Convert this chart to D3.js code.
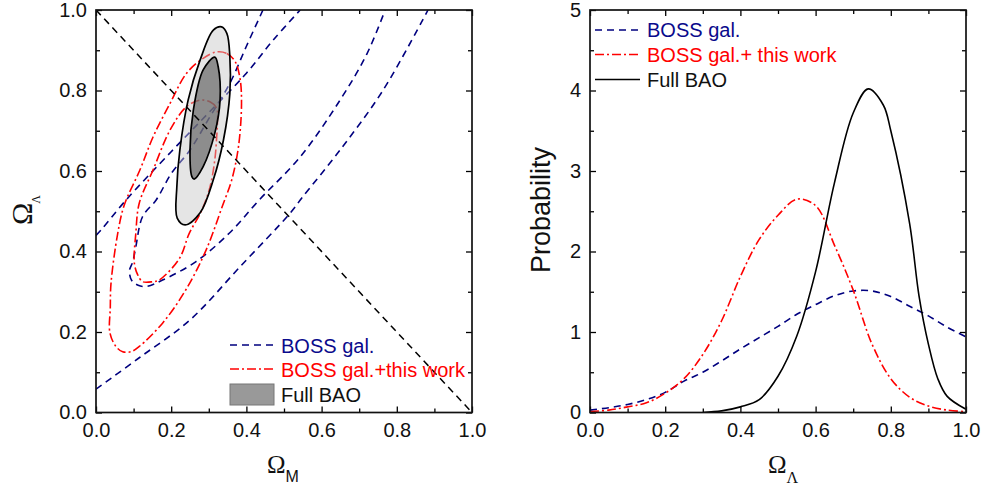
<!DOCTYPE html>
<html><head><meta charset="utf-8">
<script src="https://cdn.jsdelivr.net/npm/d3@7"></script>
<style>
body{margin:0;background:#fff}
svg{display:block}
text{font-family:"Liberation Sans",Arial,Helvetica,sans-serif}
</style>
</head><body>
<svg id="chart" width="981" height="491"></svg>
<script>
// ---------- data: left panel (Omega_M, Omega_Lambda) contours ----------
const flatLine = [[0,1],[1,0]];
const bossOuterUpper = [[0.0,0.440],[0.013,0.453],[0.08,0.528],[0.20,0.648],[0.30,0.745],[0.40,0.843],[0.471,0.925],[0.543,1.0]];
const bossOuterLower = [[0.0,0.058],[0.115,0.136],[0.25,0.23],[0.383,0.362],[0.516,0.495],[0.55,0.536],[0.649,0.652],[0.763,0.80],[0.883,1.0]];
const bossInner = [[0.444,1.0],[0.40,0.91],[0.356,0.818],[0.30,0.73],[0.25,0.652],[0.201,0.595],[0.160,0.528],[0.124,0.487],[0.106,0.412],[0.098,0.375],[0.089,0.352],[0.095,0.328],[0.112,0.316],[0.133,0.313],[0.177,0.329],[0.266,0.375],[0.355,0.446],[0.434,0.528],[0.543,0.635],[0.649,0.776],[0.72,0.89],[0.769,1.0]];
const comboOuter = [[0.321,0.896],[0.348,0.892],[0.370,0.872],[0.383,0.830],[0.387,0.768],[0.379,0.661],[0.361,0.578],[0.337,0.515],[0.293,0.404],[0.239,0.305],[0.177,0.222],[0.115,0.164],[0.093,0.151],[0.071,0.151],[0.053,0.164],[0.037,0.198],[0.038,0.26],[0.040,0.322],[0.058,0.446],[0.075,0.515],[0.117,0.603],[0.152,0.685],[0.197,0.768],[0.241,0.843],[0.285,0.880]];
const comboInner = [[0.277,0.776],[0.303,0.772],[0.321,0.756],[0.323,0.72],[0.321,0.685],[0.316,0.628],[0.303,0.56],[0.28,0.50],[0.248,0.445],[0.222,0.383],[0.168,0.329],[0.151,0.325],[0.124,0.325],[0.111,0.342],[0.102,0.371],[0.106,0.446],[0.115,0.52],[0.152,0.603],[0.197,0.702],[0.241,0.760]];
const baoOuter = [[0.334,0.958],[0.312,0.950],[0.277,0.876],[0.245,0.776],[0.223,0.652],[0.215,0.561],[0.216,0.483],[0.237,0.466],[0.277,0.496],[0.312,0.578],[0.339,0.677],[0.356,0.793],[0.356,0.884],[0.348,0.942]];
const baoInner = [[0.316,0.883],[0.285,0.851],[0.259,0.752],[0.250,0.652],[0.255,0.586],[0.261,0.580],[0.285,0.611],[0.316,0.694],[0.330,0.776],[0.325,0.859]];

// ---------- data: right panel probability curves ----------
const lamGrid = [0,0.05,0.10,0.15,0.20,0.25,0.30,0.35,0.40,0.45,0.50,0.55,0.60,0.65,0.70,0.75,0.80,0.85,0.90,0.95,1.0];
const probBoss = [0.03,0.06,0.10,0.16,0.25,0.39,0.50,0.64,0.79,0.93,1.07,1.22,1.34,1.45,1.51,1.51,1.44,1.32,1.20,1.06,0.94];
const probCombo = [0.01,0.03,0.07,0.12,0.24,0.42,0.72,1.14,1.69,2.15,2.45,2.65,2.57,2.08,1.52,0.85,0.42,0.19,0.08,0.03,0.01];
const lamBao = [0.30,0.35,0.40,0.45,0.50,0.55,0.60,0.65,0.70,0.74,0.78,0.80,0.85,0.875,0.90,0.925,0.95,1.0];
const probBao = [0.0,0.02,0.07,0.16,0.45,0.95,1.75,2.85,3.72,4.02,3.82,3.50,2.35,1.45,0.85,0.42,0.20,0.04];

// ---------- tick values ----------
const unitMajor = [0,0.2,0.4,0.6,0.8,1.0];
const unitMinor = [0.1,0.3,0.5,0.7,0.9];
const probMajor = [0,1,2,3,4,5];
const probMinor = [0.5,1.5,2.5,3.5,4.5];

const legendLeft = ["BOSS gal.","BOSS gal.+this work","Full BAO"];
const legendRight = ["BOSS gal.","BOSS gal.+ this work","Full BAO"];

const BLUE = "#00007f", BLUE_T = "#0a0a8c", RED = "#ff0000";
const DASH = "7,5", DASHDOT = "9,3,2,3";

const svg = d3.select("#chart");
const yTop = 10, yBot = 412.5;

function panel(x0, x1, xs, ys, xMaj, xMin, yMaj, yMin, yFmt, id) {
  const g = svg.append("g");
  const style = sel => {
    sel.select(".domain").remove();
    sel.selectAll(".tick line").attr("stroke","#000").attr("stroke-width",1.3);
    sel.selectAll(".tick text").attr("font-size","20px").attr("fill","#111")
       .attr("font-family","'Liberation Sans',Arial,sans-serif");
  };
  g.append("g").attr("transform",`translate(0,${yBot})`)
    .call(d3.axisBottom(xs).tickValues(xMaj).tickSize(-6).tickPadding(10).tickFormat(d3.format(".1f"))).call(style);
  g.append("g").attr("transform",`translate(0,${yBot})`)
    .call(d3.axisBottom(xs).tickValues(xMin).tickSize(-4).tickFormat("")).call(style);
  g.append("g").attr("transform",`translate(0,${yTop})`)
    .call(d3.axisTop(xs).tickValues(xMaj).tickSize(-6).tickFormat("")).call(style);
  g.append("g").attr("transform",`translate(0,${yTop})`)
    .call(d3.axisTop(xs).tickValues(xMin).tickSize(-4).tickFormat("")).call(style);
  g.append("g").attr("transform",`translate(${x0},0)`)
    .call(d3.axisLeft(ys).tickValues(yMaj).tickSize(-6).tickPadding(9).tickFormat(yFmt)).call(style);
  g.append("g").attr("transform",`translate(${x0},0)`)
    .call(d3.axisLeft(ys).tickValues(yMin).tickSize(-4).tickFormat("")).call(style);
  g.append("g").attr("transform",`translate(${x1},0)`)
    .call(d3.axisRight(ys).tickValues(yMaj).tickSize(-6).tickFormat("")).call(style);
  g.append("g").attr("transform",`translate(${x1},0)`)
    .call(d3.axisRight(ys).tickValues(yMin).tickSize(-4).tickFormat("")).call(style);
  svg.append("defs").append("clipPath").attr("id",id)
    .append("rect").attr("x",x0).attr("y",yTop).attr("width",x1-x0).attr("height",yBot-yTop);
  return g;
}

// ---------- left panel ----------
const xL = d3.scaleLinear().domain([0,1]).range([96,472]);
const yL = d3.scaleLinear().domain([0,1]).range([yBot,yTop]);
panel(96,472,xL,yL,unitMajor,unitMinor,unitMajor,unitMinor,d3.format(".1f"),"clipL");
const plotL = svg.append("g").attr("clip-path","url(#clipL)");
const openLine = d3.line().x(d=>xL(d[0])).y(d=>yL(d[1])).curve(d3.curveCatmullRom.alpha(0.5));
const closedLine = d3.line().x(d=>xL(d[0])).y(d=>yL(d[1])).curve(d3.curveCatmullRomClosed.alpha(0.5));

[bossOuterUpper,bossOuterLower,bossInner].forEach(arr=>{
  plotL.append("path").attr("d",openLine(arr)).attr("fill","none")
    .attr("stroke",BLUE).attr("stroke-width",1.6).attr("stroke-dasharray",DASH);
});
[comboOuter,comboInner].forEach(arr=>{
  plotL.append("path").attr("d",closedLine(arr)).attr("fill","none")
    .attr("stroke",RED).attr("stroke-width",1.6).attr("stroke-dasharray",DASHDOT);
});
plotL.append("path").attr("d",closedLine(baoOuter)).attr("fill","#c6c6c6").attr("fill-opacity",0.45)
  .attr("stroke","#000").attr("stroke-width",1.7);
plotL.append("path").attr("d",closedLine(baoInner)).attr("fill","#5e5e5e").attr("fill-opacity",0.65)
  .attr("stroke","#000").attr("stroke-width",1.7);
plotL.append("path").attr("d",d3.line().x(d=>xL(d[0])).y(d=>yL(d[1]))(flatLine)).attr("fill","none")
  .attr("stroke","#000").attr("stroke-width",1.5).attr("stroke-dasharray",DASH);

// left legend
const lgL = svg.append("g");
lgL.append("line").attr("x1",230).attr("x2",273).attr("y1",345).attr("y2",345)
  .attr("stroke",BLUE).attr("stroke-width",1.6).attr("stroke-dasharray",DASH);
lgL.append("line").attr("x1",230).attr("x2",273).attr("y1",369).attr("y2",369)
  .attr("stroke",RED).attr("stroke-width",1.6).attr("stroke-dasharray",DASHDOT);
lgL.append("rect").attr("x",230).attr("y",384).attr("width",44).attr("height",21)
  .attr("fill","#999").attr("stroke","#777").attr("stroke-width",1);
[[legendLeft[0],353,BLUE_T],[legendLeft[1],377,RED],[legendLeft[2],401.5,"#111"]].forEach(([t,y,c])=>{
  lgL.append("text").attr("x",281).attr("y",y).attr("font-size","20px").attr("fill",c).text(t);
});

// frame left
svg.append("rect").attr("x",96).attr("y",yTop).attr("width",376).attr("height",yBot-yTop)
  .attr("fill","none").attr("stroke","#111").attr("stroke-width",1.7);

// ---------- right panel ----------
const xR = d3.scaleLinear().domain([0,1]).range([590,966]);
const yR = d3.scaleLinear().domain([0,5]).range([yBot,yTop]);
panel(590,966,xR,yR,unitMajor,unitMinor,probMajor,probMinor,d3.format("d"),"clipR");
const plotR = svg.append("g").attr("clip-path","url(#clipR)");
const curve = (xs,ps) => d3.line().x((d,i)=>xR(xs[i])).y(d=>yR(d)).curve(d3.curveCatmullRom.alpha(0.5))(ps);
plotR.append("path").attr("d",curve(lamGrid,probBoss)).attr("fill","none")
  .attr("stroke",BLUE).attr("stroke-width",1.6).attr("stroke-dasharray",DASH);
plotR.append("path").attr("d",curve(lamGrid,probCombo)).attr("fill","none")
  .attr("stroke",RED).attr("stroke-width",1.6).attr("stroke-dasharray",DASHDOT);
plotR.append("path").attr("d",curve(lamBao,probBao)).attr("fill","none")
  .attr("stroke","#000").attr("stroke-width",1.6);

const lgR = svg.append("g");
lgR.append("line").attr("x1",595).attr("x2",640).attr("y1",30).attr("y2",30)
  .attr("stroke",BLUE).attr("stroke-width",1.6).attr("stroke-dasharray",DASH);
lgR.append("line").attr("x1",595).attr("x2",640).attr("y1",54.5).attr("y2",54.5)
  .attr("stroke",RED).attr("stroke-width",1.6).attr("stroke-dasharray",DASHDOT);
lgR.append("line").attr("x1",595).attr("x2",640).attr("y1",79.5).attr("y2",79.5)
  .attr("stroke","#000").attr("stroke-width",1.6);
[[legendRight[0],37,BLUE_T],[legendRight[1],61.7,RED],[legendRight[2],86.7,"#111"]].forEach(([t,y,c])=>{
  lgR.append("text").attr("x",647).attr("y",y).attr("font-size","20px").attr("fill",c).text(t);
});

svg.append("rect").attr("x",590).attr("y",yTop).attr("width",376).attr("height",yBot-yTop)
  .attr("fill","none").attr("stroke","#111").attr("stroke-width",1.7);

// ---------- axis titles ----------
const serif = "'Liberation Serif','Times New Roman',serif";
const tM = svg.append("text").attr("x",267).attr("y",473).attr("fill","#111");
tM.append("tspan").attr("font-family",serif).attr("font-size","25px").text("Ω");
tM.append("tspan").attr("font-size","16px").attr("dy",8.5).text("M");

const tL = svg.append("text").attr("x",768).attr("y",473).attr("fill","#111");
tL.append("tspan").attr("font-family",serif).attr("font-size","25px").text("Ω");
tL.append("tspan").attr("font-family",serif).attr("font-size","16px").attr("dy",10).text("Λ");

const tY = svg.append("text").attr("transform","translate(31.7,225) rotate(-90)").attr("fill","#111");
tY.append("tspan").attr("font-family",serif).attr("font-size","30px").text("Ω");
tY.append("tspan").attr("font-family",serif).attr("font-size","12px").attr("dy",8).attr("dx",-1).text("Λ");

svg.append("text").attr("transform","translate(550,210) rotate(-90)").attr("text-anchor","middle")
  .attr("font-size","27px").attr("fill","#111").text("Probability");
</script>
</body></html>
